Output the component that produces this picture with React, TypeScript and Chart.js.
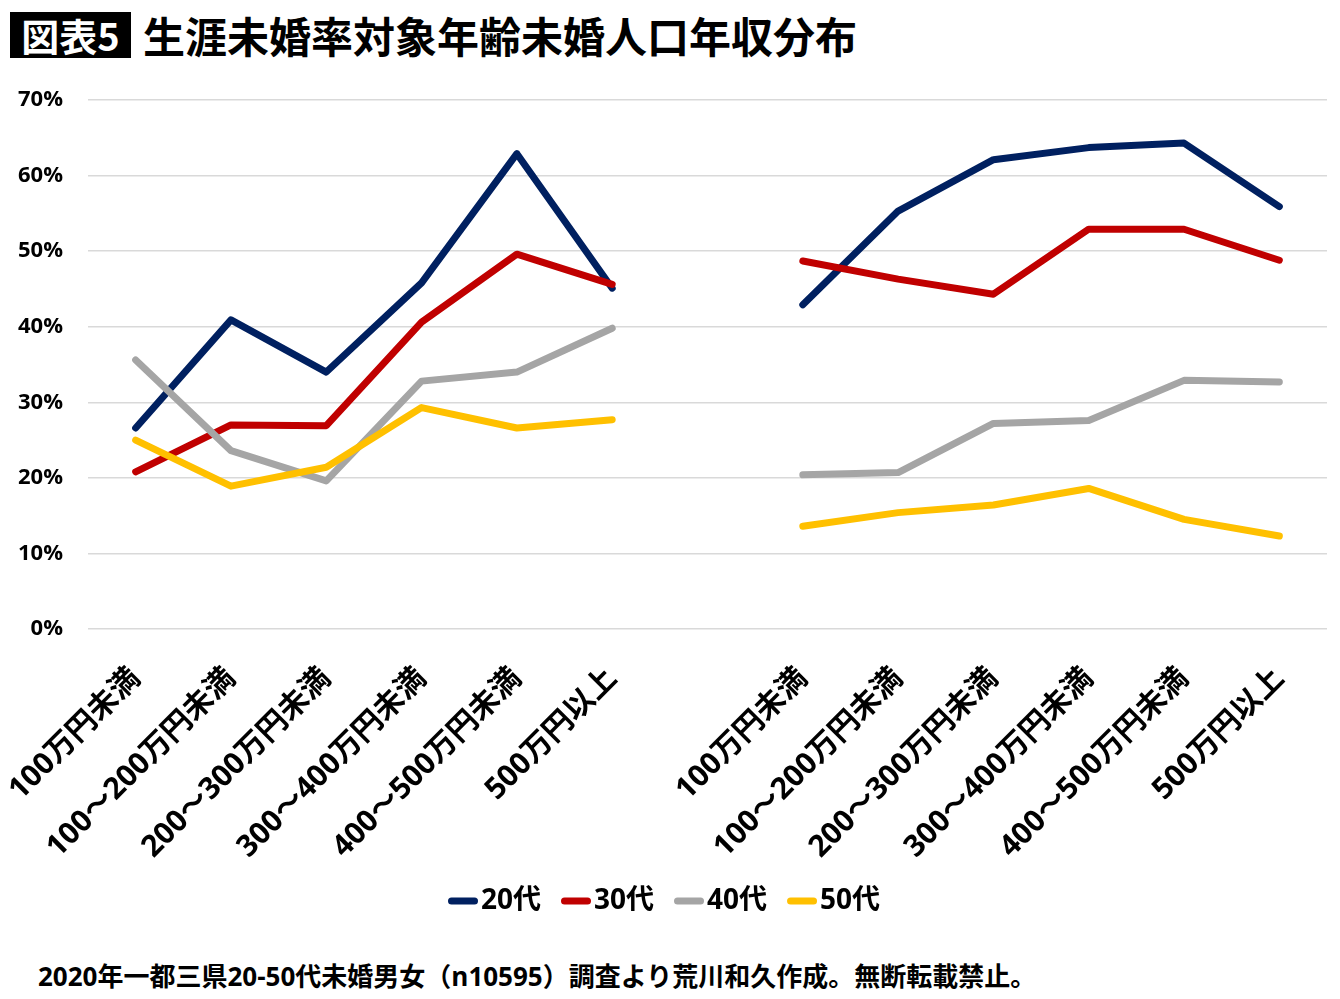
import React, { useEffect, useRef } from "react";
import { Chart, registerables } from "chart.js";

Chart.register(...registerables);

const categories = [
  "100万円未満",
  "100～200万円未満",
  "200～300万円未満",
  "300～400万円未満",
  "400～500万円未満",
  "500万円以上",
  "",
  "100万円未満",
  "100～200万円未満",
  "200～300万円未満",
  "300～400万円未満",
  "400～500万円未満",
  "500万円以上",
];

const seriesNames = ["20代", "30代", "40代", "50代"];
const s20 = [26.6, 40.9, 34.0, 45.8, 62.9, 45.1, null, 42.9, 55.3, 62.1, 63.7, 64.3, 55.9];
const s30 = [20.8, 27.0, 26.9, 40.6, 49.6, 45.6, null, 48.7, 46.3, 44.3, 52.9, 52.9, 48.8];
const s40 = [35.6, 23.6, 19.6, 32.8, 34.0, 39.8, null, 20.4, 20.7, 27.2, 27.6, 32.9, 32.7];
const s50 = [25.0, 18.9, 21.4, 29.3, 26.6, 27.7, null, 13.6, 15.4, 16.4, 18.6, 14.5, 12.3];
const seriesColors = ["#002060", "#C00000", "#A5A5A5", "#FFC000"];

const yTicks = [0, 10, 20, 30, 40, 50, 60, 70];

const titleBox = "図表5";
const titleText = "生涯未婚率対象年齢未婚人口年収分布";
const footerText = "2020年一都三県20-50代未婚男女（n10595）調査より荒川和久作成。無断転載禁止。";

const FONT = '"Open Sans", "Noto Sans CJK JP", sans-serif';

// legend marker: a short rounded line placed in the right part of a wider image,
// so the gap between marker and text is small like the reference
function makeMarker(color: string): HTMLCanvasElement {
  const c = document.createElement("canvas");
  c.width = 42;
  c.height = 8;
  const g = c.getContext("2d")!;
  g.strokeStyle = color;
  g.lineWidth = 7;
  g.lineCap = "round";
  g.beginPath();
  g.moveTo(15.5, 4);
  g.lineTo(38.5, 4);
  g.stroke();
  return c;
}

export default function App() {
  const ref = useRef<HTMLCanvasElement>(null);

  useEffect(() => {
    document.body.style.margin = "0";
    const values = [s20, s30, s40, s50];
    const markers = seriesColors.map(makeMarker);
    const defaultGen = (Chart as any).defaults.plugins.legend.labels.generateLabels;
    const chart = new Chart(ref.current!, {
      type: "line",
      data: {
        labels: categories,
        datasets: values.map((v, i) => ({
          label: seriesNames[i],
          data: v,
          borderColor: seriesColors[i],
          backgroundColor: seriesColors[i],
          borderWidth: 7,
          borderCapStyle: "round",
          borderJoinStyle: "round",
          pointRadius: 0,
          pointHoverRadius: 0,
          spanGaps: false,
          tension: 0,
          order: 4 - i,
        })),
      },
      options: {
        animation: false,
        responsive: false,
        layout: { padding: { top: 30, right: 13, bottom: 15, left: 0 } },
        plugins: {
          tooltip: { enabled: false },
          legend: {
            position: "bottom",
            labels: {
              usePointStyle: true,
              pointStyleWidth: 20,
              color: "#000",
              padding: 19,
              font: { family: FONT, size: 28, weight: "bold" },
              sort: (a: any, b: any) => a.datasetIndex - b.datasetIndex,
              generateLabels: (ch: any) =>
                defaultGen(ch).map((item: any) => ({
                  ...item,
                  pointStyle: markers[item.datasetIndex],
                })),
            },
          },
        },
        scales: {
          x: {
            offset: true,
            grid: { display: false },
            border: { display: false },
            ticks: {
              autoSkip: false,
              minRotation: 45,
              maxRotation: 45,
              padding: 24,
              color: "#000",
              font: { family: FONT, size: 30, weight: "bold" },
            },
            afterFit: (s: any) => {
              s.height = 239;
              s.paddingLeft = 0;
              s.paddingRight = 0;
            },
          },
          y: {
            min: yTicks[0],
            max: yTicks[yTicks.length - 1],
            afterBuildTicks: (s: any) => {
              s.ticks = yTicks.map((v) => ({ value: v }));
            },
            ticks: {
              callback: (v: any) => v + "%",
              padding: 25,
              color: "#000",
              font: { family: FONT, size: 22, weight: "bold" },
            },
            grid: { color: "#d9d9d9", lineWidth: 1.5, drawTicks: false },
            border: { display: false },
            afterFit: (s: any) => {
              s.width = 88;
              s.paddingTop = 0;
              s.paddingBottom = 0;
            },
          },
        },
      },
    });
    return () => chart.destroy();
  }, []);

  return (
    <div style={{ position: "relative", width: 1340, height: 999, background: "#fff", overflow: "hidden" }}>
      <div
        style={{
          position: "absolute",
          left: 10,
          top: 12,
          width: 121,
          height: 46,
          background: "#000",
          color: "#fff",
          font: 'bold 38px "Noto Sans CJK JP", sans-serif',
          lineHeight: "46px",
          textAlign: "center",
        }}
      >
        {titleBox}
      </div>
      <div
        style={{
          position: "absolute",
          left: 143,
          top: 8,
          color: "#000",
          font: 'bold 42px "Noto Sans CJK JP", sans-serif',
          lineHeight: "54px",
          whiteSpace: "nowrap",
        }}
      >
        {titleText}
      </div>
      <canvas
        ref={ref}
        width={1340}
        height={870}
        style={{ position: "absolute", left: 0, top: 70, width: 1340, height: 870 }}
      />
      <div
        style={{
          position: "absolute",
          left: 38,
          top: 958,
          color: "#000",
          font: 'bold 26px "Open Sans", "Noto Sans CJK JP", sans-serif',
          lineHeight: "36px",
          whiteSpace: "nowrap",
        }}
      >
        {footerText}
      </div>
    </div>
  );
}
